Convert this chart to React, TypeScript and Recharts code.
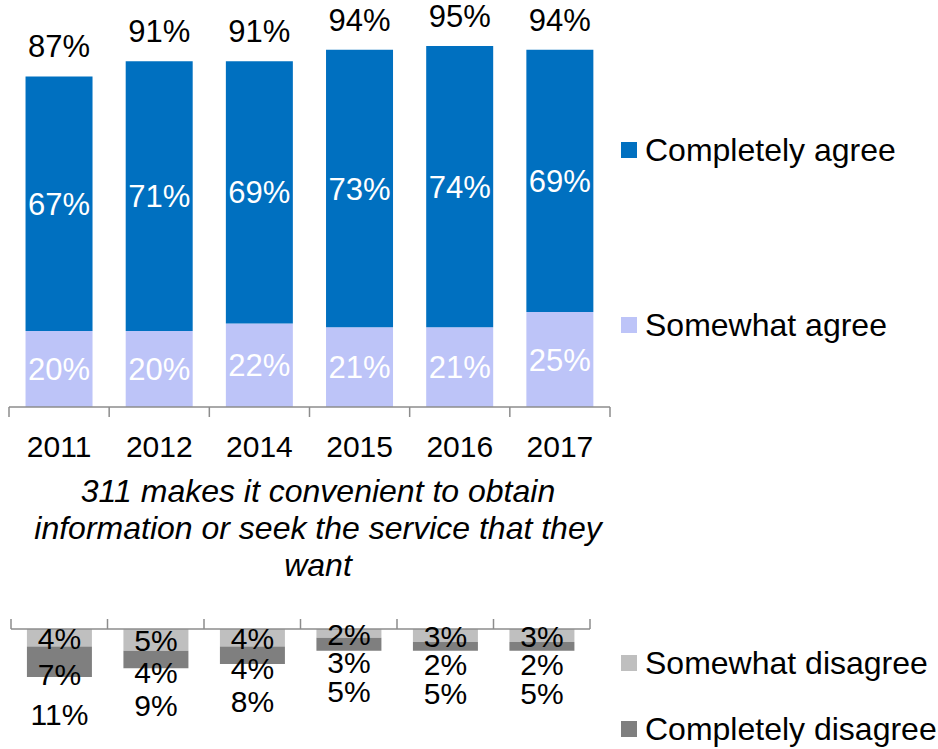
import { BarChart, Bar, XAxis, YAxis, LabelList } from 'recharts'

const years = ['2011', '2012', '2014', '2015', '2016', '2017']
const completelyAgree = [67, 71, 69, 73, 74, 69]
const somewhatAgree = [20, 20, 22, 21, 21, 25]
const agreeTotal = [87, 91, 91, 94, 95, 94]
const somewhatDisagree = [4, 5, 4, 2, 3, 3]
const completelyDisagree = [7, 4, 4, 3, 2, 2]
const disagreeTotal = [11, 9, 8, 5, 5, 5]

const FONT = '"Liberation Sans", Arial, sans-serif'
const AXIS = '#8c8c8c'
const BLUE = '#0070C0'
const LAVENDER = '#BDC4F8'
const LIGHT_GRAY = '#BFBFBF'
const DARK_GRAY = '#7F7F7F'

const agreeData = years.map((year, i) => ({
  year,
  somewhat: somewhatAgree[i],
  completely: completelyAgree[i],
  total: agreeTotal[i],
}))

const disagreeData = years.map((year, i) => ({
  year,
  somewhat: somewhatDisagree[i],
  completely: completelyDisagree[i],
  total: disagreeTotal[i],
}))

const pct = (v: any) => `${v}%`

// tick marks sit on the category boundaries, not under the bars
function BoundaryTicks({ x, y, width, index, payload, up, label }: any) {
  const i = index ?? payload.index
  const band = width / years.length
  const dir = up ? -1 : 1
  const left = x - band / 2
  const right = x + band / 2
  return (
    <g>
      <line x1={left} y1={y} x2={left} y2={y + dir * 10} stroke={AXIS} strokeWidth={1.5} />
      {i === years.length - 1 && (
        <line x1={right} y1={y} x2={right} y2={y + dir * 10} stroke={AXIS} strokeWidth={1.5} />
      )}
      {label && (
        <text x={x} y={y + 50} textAnchor="middle" fontSize={30} fontFamily={FONT} fill="#000">
          {payload.value}
        </text>
      )}
    </g>
  )
}

function box(props: any) {
  const vb = props.viewBox && props.viewBox.width !== undefined ? props.viewBox : props
  const top = Math.min(vb.y, vb.y + vb.height)
  return { x: vb.x, w: vb.width, top, h: Math.abs(vb.height) }
}

function LightLabel(props: any) {
  const { x, w, top, h } = box(props)
  return (
    <text x={x + w / 2} y={top + h / 2 + 11.5} textAnchor="middle" fontSize={30} fontFamily={FONT} fill="#000">
      {pct(somewhatDisagree[props.index])}
    </text>
  )
}

function DarkLabels(props: any) {
  const { x, w, top, h } = box(props)
  const i = props.index
  const perUnit = h / completelyDisagree[i]
  const lightY = top - (perUnit * somewhatDisagree[i]) / 2
  const darkY = Math.max(top + h / 2 + 13, lightY + 29)
  const totalY = Math.max(top + h + 37, darkY + 29)
  const cx = x + w / 2
  return (
    <g>
      <text x={cx} y={darkY + 10.7} textAnchor="middle" fontSize={30} fontFamily={FONT} fill="#000">
        {pct(completelyDisagree[i])}
      </text>
      <text x={cx} y={totalY + 10.7} textAnchor="middle" fontSize={30} fontFamily={FONT} fill="#000">
        {pct(disagreeTotal[i])}
      </text>
    </g>
  )
}

const legendItems = [
  { name: 'Completely agree', color: BLUE, cy: 150 },
  { name: 'Somewhat agree', color: LAVENDER, cy: 325 },
  { name: 'Somewhat disagree', color: LIGHT_GRAY, cy: 663 },
  { name: 'Completely disagree', color: DARK_GRAY, cy: 729 },
]

export default function App() {
  return (
    <div style={{ position: 'relative', width: 938, height: 749, background: '#fff', fontFamily: FONT }}>
      <style>{'body{margin:0}'}</style>

      <div style={{ position: 'absolute', left: 0, top: 0 }}>
        <BarChart
          width={938}
          height={480}
          data={agreeData}
          margin={{ top: 27, right: 328, left: 9, bottom: 13 }}
          barCategoryGap="16.5%"
        >
          <XAxis
            dataKey="year"
            interval={0}
            height={60}
            tickSize={0}
            tickMargin={0}
            tickLine={false}
            axisLine={{ stroke: AXIS, strokeWidth: 1.5 }}
            tick={<BoundaryTicks label />}
          />
          <YAxis hide domain={[0, 100]} />
          <Bar dataKey="somewhat" stackId="a" fill={LAVENDER} isAnimationActive={false}>
            <LabelList dataKey="somewhat" position="center" fill="#fff" fontSize={31} fontFamily={FONT} formatter={pct} />
          </Bar>
          <Bar dataKey="completely" stackId="a" fill={BLUE} isAnimationActive={false}>
            <LabelList dataKey="completely" position="center" fill="#fff" fontSize={31} fontFamily={FONT} formatter={pct} />
            <LabelList dataKey="total" position="top" offset={19} fill="#000" fontSize={31} fontFamily={FONT} formatter={pct} />
          </Bar>
        </BarChart>
      </div>

      <div
        style={{
          position: 'absolute',
          left: 0,
          top: 473,
          width: 636,
          textAlign: 'center',
          fontStyle: 'italic',
          fontSize: 32,
          lineHeight: '37px',
          color: '#000',
        }}
      >
        311 makes it convenient to obtain
        <br />
        information or seek the service that they
        <br />
        want
      </div>

      <div style={{ position: 'absolute', left: 0, top: 600 }}>
        <BarChart
          width={938}
          height={149}
          data={disagreeData}
          margin={{ top: 0, right: 348, left: 11, bottom: 11 }}
          barCategoryGap="16.5%"
        >
          <XAxis
            dataKey="year"
            orientation="top"
            interval={0}
            height={29}
            tickSize={0}
            tickMargin={0}
            tickLine={false}
            axisLine={{ stroke: AXIS, strokeWidth: 1.5 }}
            tick={<BoundaryTicks up />}
          />
          <YAxis hide reversed domain={[0, 25]} />
          <Bar dataKey="somewhat" stackId="d" fill={LIGHT_GRAY} isAnimationActive={false}>
            <LabelList dataKey="somewhat" content={<LightLabel />} />
          </Bar>
          <Bar dataKey="completely" stackId="d" fill={DARK_GRAY} isAnimationActive={false}>
            <LabelList dataKey="completely" content={<DarkLabels />} />
          </Bar>
        </BarChart>
      </div>

      {legendItems.map((item) => (
        <div
          key={item.name}
          style={{
            position: 'absolute',
            left: 621,
            top: item.cy - 20,
            height: 40,
            display: 'flex',
            alignItems: 'center',
            whiteSpace: 'nowrap',
          }}
        >
          <span style={{ width: 16, height: 16, background: item.color, display: 'inline-block', marginRight: 8 }} />
          <span style={{ fontSize: 32, color: '#000' }}>{item.name}</span>
        </div>
      ))}
    </div>
  )
}
